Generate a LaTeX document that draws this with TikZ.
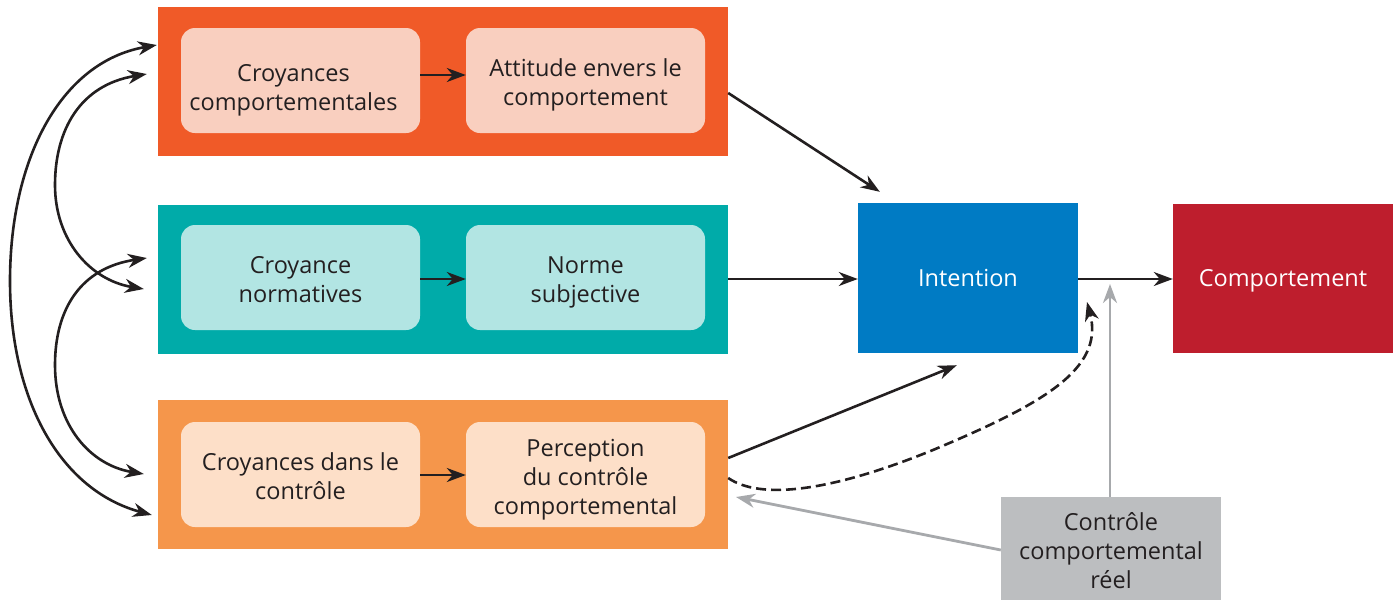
\documentclass[tikz,border=0pt]{standalone}
\usepackage{fontspec}
\setmainfont{Open Sans}
\usetikzlibrary{arrows.meta,calc}
\definecolor{ink}{HTML}{231F20}
\definecolor{attdark}{HTML}{F05A28}
\definecolor{attlight}{HTML}{F9CFBF}
\definecolor{normdark}{HTML}{00ABA9}
\definecolor{normlight}{HTML}{B2E5E3}
\definecolor{ctrldark}{HTML}{F5964B}
\definecolor{ctrllight}{HTML}{FDDFC8}
\definecolor{intblue}{HTML}{007BC4}
\definecolor{behred}{HTML}{BE1E2D}
\definecolor{realgray}{HTML}{BCBEC0}
\definecolor{arrowgray}{HTML}{A7A9AC}
\tikzset{arrowhead/.tip={Stealth[length=19pt,width=14pt,inset=6pt]}}
\begin{document}
\begin{tikzpicture}[x=1pt,y=-1pt,
  txt/.style={font=\fontsize{23.5}{29}\selectfont, align=center},
  outerbox/.style={minimum width=570pt, minimum height=149pt, inner sep=0pt},
  innerbox/.style={txt, text=ink, rounded corners=14pt, minimum width=239pt, minimum height=105pt, inner sep=0pt},
  bigbox/.style={txt, minimum width=220pt, minimum height=150pt, inner sep=0pt},
  link/.style={-arrowhead, line width=2.6pt, draw=ink},
  twoway/.style={arrowhead-arrowhead, line width=2.6pt, draw=ink},
  greylink/.style={-arrowhead, line width=2.8pt, draw=arrowgray},
]
\useasboundingbox (0,0) rectangle (1393,600);

% three coloured bands
\node[outerbox, fill=attdark]  (r1) at (443,81.5) {};
\node[outerbox, fill=normdark] (r2) at (443,279) {};
\node[outerbox, fill=ctrldark] (r3) at (443,474.5) {};

% belief and construct boxes
\node[innerbox, fill=attlight]  (a1) at (300.5,80.5)  {};
\node[innerbox, fill=attlight]  (b1) at (585.5,80.5)  {};
\node[innerbox, fill=normlight] (a2) at (300.5,277.5) {};
\node[innerbox, fill=normlight] (b2) at (585.5,277.5) {};
\node[innerbox, fill=ctrllight] (a3) at (300.5,474.5) {};
\node[innerbox, fill=ctrllight] (b3) at (585.5,474.5) {};
\node[txt, text=ink] at ($(a1.center)+(-7,10)$) {Croyances\\comportementales};
\node[txt, text=ink] at ($(b1.center)+(0,4)$)   {Attitude envers le\\comportement};
\node[txt, text=ink] at ($(a2.center)+(0,2)$)   {Croyance\\normatives};
\node[txt, text=ink] at ($(b2.center)+(0,5)$)   {Norme\\subjective};
\node[txt, text=ink] at ($(a3.center)+(0,2)$)   {Croyances dans le\\contrôle};
\node[txt, text=ink] at ($(b3.center)+(0,5)$)   {Perception\\du contrôle\\comportemental};

% intention, behaviour, actual control
\node[bigbox, fill=intblue, text=white] (int) at (968,278) {Intention};
\node[bigbox, fill=behred, text=white, minimum height=149pt] (beh) at (1283,278.5) {};
\node[txt, text=white] at ($(beh.center)+(0,2)$) {Comportement};
\node[bigbox, fill=realgray, text=ink, minimum height=103pt] (real) at (1111,548.5) {};
\node[txt, text=ink] at ($(real.center)+(0,2)$) {Contrôle\\comportemental\\réel};

% beliefs to constructs
\draw[link] (a1.east |- 0,75) -- (b1.west |- 0,75);
\draw[link] (a2.east |- 0,279) -- (b2.west |- 0,279);
\draw[link] (a3.east |- 0,475) -- (b3.west |- 0,475);

% constructs to intention
\coordinate (t1) at ($(int.north west)+(22,-11)$);
\coordinate (t3) at ($(int.south west)+(99,12)$);
\draw[link] (r1.east |- 0,93) -- (t1);
\draw[link] (r2.east |- 0,279) -- (int.west |- 0,279);
\draw[link] (r3.east |- 0,458) -- (t3);

% intention to behaviour
\draw[link] (int.east |- 0,279) -- (beh.west |- 0,279);

% feedback of perceived control on the intention-behaviour link
\coordinate (d1) at (1087,302);
\draw[link, dash pattern=on 10pt off 5pt]
  (r3.east |- 0,478) .. controls (760,500) and (830,492) .. (933,450)
  .. controls (1040,405) and (1105,370) .. (d1);

% actual control
\coordinate (g1) at (1110,284);
\coordinate (g2) at (736,497);
\draw[greylink] (real.north -| 1110,0) -- (g1);
\draw[greylink] (real.west |- 0,550) -- (g2);

% correlations among the belief sets
\coordinate (c1) at ($(r1.west)+(-1,-36.5)$);
\coordinate (c2) at ($(r1.west)+(-11,-7.5)$);
\coordinate (c3) at ($(r2.west)+(-11,-21)$);
\coordinate (c4) at ($(r2.west)+(-14,10)$);
\coordinate (c5) at ($(r3.west)+(-14,-0.5)$);
\coordinate (c6) at ($(r3.west)+(-6,40.5)$);
\draw[twoway] (c1) .. controls (60,62) and (10,160) .. (10,281)
  .. controls (10,400) and (60,490) .. (c6);
\draw[twoway] (c2) .. controls (80,85) and (55,130) .. (55,185)
  .. controls (55,240) and (90,280) .. (c4);
\draw[twoway] (c3) .. controls (80,268) and (55,310) .. (55,365)
  .. controls (55,425) and (90,465) .. (c5);
\end{tikzpicture}
\end{document}
